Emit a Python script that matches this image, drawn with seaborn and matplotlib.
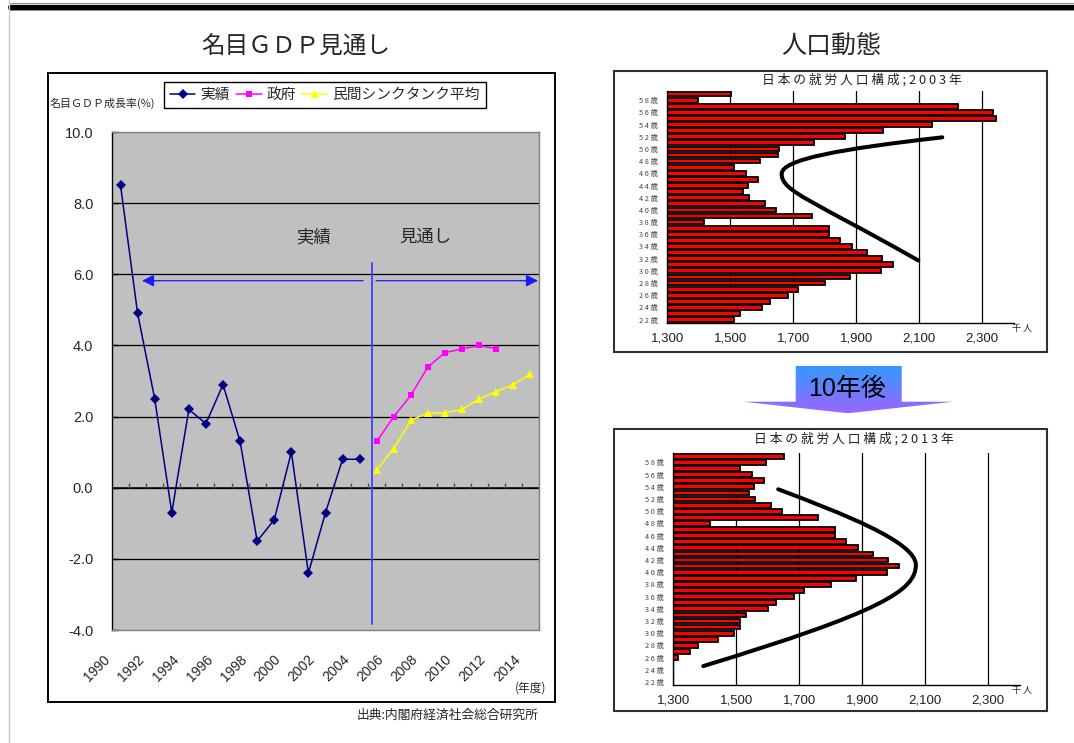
import numpy as np
import pandas as pd
import matplotlib
matplotlib.use("Agg")
import matplotlib.pyplot as plt
import matplotlib.patches as mpatches
import matplotlib.transforms as mtransforms
from matplotlib.path import Path
from matplotlib.lines import Line2D
from matplotlib.colors import LinearSegmentedColormap
import seaborn as sns

# ---------------- data ----------------
# nominal GDP growth rate (%) by fiscal year
actual_years = list(range(1990, 2005))
actual_growth = [8.5, 4.9, 2.5, -0.7, 2.2, 1.8, 2.9, 1.3, -1.5, -0.9, 1.0, -2.4, -0.7, 0.8, 0.8]
gov_years = list(range(2005, 2013))
gov_growth = [1.3, 2.0, 2.6, 3.4, 3.8, 3.9, 4.0, 3.9]
private_years = list(range(2005, 2015))
private_growth = [0.5, 1.1, 1.9, 2.1, 2.1, 2.2, 2.5, 2.7, 2.9, 3.2]
series_names = ["実績", "政府", "民間シンクタンク平均"]
year_ticks = list(range(1990, 2015, 2))
growth_ticks = [-4.0, -2.0, 0.0, 2.0, 4.0, 6.0, 8.0, 10.0]

# working population by age (thousand people)
ages = list(range(22, 60))
workers_2003 = [1511, 1532, 1602, 1626, 1682, 1716, 1802, 1880, 1979, 2017,
                1981, 1934, 1885, 1849, 1813, 1812, 1418, 1758, 1645, 1611,
                1560, 1539, 1557, 1589, 1550, 1512, 1594, 1652, 1656, 1766,
                1865, 1984, 2139, 2345, 2335, 2224, 1396, 1502]
workers_2013 = [1240, 1260, 1280, 1295, 1314, 1353, 1377, 1443, 1494, 1511,
                1511, 1532, 1602, 1626, 1682, 1716, 1802, 1880, 1979, 2017,
                1981, 1934, 1885, 1849, 1813, 1812, 1418, 1758, 1645, 1611,
                1560, 1539, 1557, 1589, 1550, 1512, 1594, 1652]
pop_ticks = [1300, 1500, 1700, 1900, 2100, 2300]

# hand-drawn trend strokes: (thousand people, age) Bezier control points
stroke_2003 = [(2173, 51.9), (1850, 50.0), (1663, 48.3), (1663, 45.9),
               (1663, 43.0), (1760, 41.6), (2097, 31.7)]
stroke_2013 = [(1633, 53.6), (1833, 49.7), (2070, 45.0), (2070, 41.2),
               (2070, 37.0), (1960, 33.5), (1395, 24.6)]

# ---------------- style ----------------
sns.set_style("white")
plt.rcParams["font.family"] = ["Liberation Sans", "Noto Sans CJK JP"]
plt.rcParams["axes.unicode_minus"] = False

W, H = 1074, 743
fig = plt.figure(figsize=(W / 100, H / 100), dpi=100)
fig.patch.set_facecolor("white")


def fx(px):
    return px / W


def fy(py):
    return 1 - py / H


def rect(l, t, r, b):
    return [l / W, 1 - b / H, (r - l) / W, (b - t) / H]


CJK = ["Noto Sans CJK JP", "DejaVu Sans"]

# page decoration
fig.add_artist(Line2D([fx(10), 1], [fy(6.6)] * 2, color="black", lw=3.8))
fig.add_artist(Line2D([fx(10), 1], [fy(2.8)] * 2, color="#888888", lw=0.7))
fig.add_artist(Line2D([fx(10), 1], [fy(9.8)] * 2, color="#888888", lw=0.7))
fig.add_artist(Line2D([fx(8.5)] * 2, [0, 1], color="#C8C8C8", lw=1.0))

# ---------------- GDP chart ----------------
fig.text(fx(296), fy(46), "名目ＧＤＰ見通し", fontsize=17, ha="center", va="center", family=CJK)
fig.add_artist(mpatches.Rectangle((fx(47.7), fy(701.7)), fx(555) - fx(47.7), fy(73.3) - fy(701.7),
                                  fill=False, edgecolor="black", lw=1.4, transform=fig.transFigure))

ax = fig.add_axes(rect(112, 132, 539, 630))
ax.set_facecolor("#C0C0C0")

df = pd.concat([
    pd.DataFrame({"year": actual_years, "growth": actual_growth, "series": series_names[0]}),
    pd.DataFrame({"year": gov_years, "growth": gov_growth, "series": series_names[1]}),
    pd.DataFrame({"year": private_years, "growth": private_growth, "series": series_names[2]}),
])
palette = {series_names[0]: "#000080", series_names[1]: "#FF00FF", series_names[2]: "#FFFF00"}
markers = {series_names[0]: "D", series_names[1]: "s", series_names[2]: "^"}
msizes = {series_names[0]: 5, series_names[1]: 5, series_names[2]: 5.5}

for name in series_names:
    sub = df[df["series"] == name]
    sns.lineplot(data=sub, x="year", y="growth", color=palette[name], marker=markers[name],
                 markersize=msizes[name], markeredgewidth=0, linewidth=1.1, ax=ax, zorder=4)

ax.set_xlim(1989.5, 2014.5)
ax.set_ylim(-4, 10)
ax.set_xlabel("")
ax.set_ylabel("")

ax.set_yticks(growth_ticks)
ax.set_yticklabels([f"{v:.1f}" for v in growth_ticks])
ax.yaxis.grid(True, color="black", lw=0.9)
gl = ax.get_ygridlines()
gl[0].set_visible(False)
gl[-1].set_visible(False)
ax.tick_params(axis="y", direction="in", length=4, width=1, color="black",
               labelsize=10.5, pad=13.5, left=True)

ax.set_xticks(year_ticks)
ax.set_xticklabels([str(y) for y in year_ticks])
ax.tick_params(axis="x", length=0, labelsize=10, pad=19.5)
shift = mtransforms.ScaledTranslation(-12.5 / 100, 0, fig.dpi_scale_trans)
for lab in ax.get_xticklabels():
    lab.set_rotation(45)
    lab.set_ha("right")
    lab.set_va("center")
    lab.set_rotation_mode("anchor")
    lab.set_transform(lab.get_transform() + shift)

for s in ["top", "right", "bottom"]:
    ax.spines[s].set_color("#808080")
    ax.spines[s].set_linewidth(1.0)
ax.spines["left"].set_color("black")
ax.spines["left"].set_linewidth(1.0)

# category axis crossing at zero with tick marks between categories
ax.axhline(0, color="black", lw=1.1, zorder=2)
boundaries = [y + 0.5 for y in range(1990, 2014)]
ax.vlines(boundaries, 0, 0.12, color="#505050", lw=1.0, zorder=2)

# actual / outlook divider
ax.plot([2004.72, 2004.72], [6.33, -3.83], color="#4040FF", lw=1.3, zorder=3)
arrow_kw = dict(arrowstyle="-|>,head_length=0.6,head_width=0.3", color="#1A1AFF", lw=0.9,
                shrinkA=0, shrinkB=0, mutation_scale=12)
ax.annotate("", xy=(1991.26, 5.82), xytext=(2004.2, 5.82), arrowprops=arrow_kw, zorder=3)
ax.annotate("", xy=(2014.44, 5.82), xytext=(2004.96, 5.82), arrowprops=arrow_kw, zorder=3)
ax.text(2001.27, 7.04, "実績", fontsize=12.5, ha="center", va="center", family=CJK)
ax.text(2007.83, 7.04, "見通し", fontsize=12.5, ha="center", va="center", family=CJK)

handles = [Line2D([], [], color=palette[n], marker=markers[n], markersize=msizes[n],
                  markeredgewidth=0, lw=1.1) for n in series_names]
leg = ax.legend(handles, series_names, loc="upper left", bbox_to_anchor=(fx(163.5), fy(82)),
                bbox_transform=fig.transFigure, ncol=3, frameon=True, fancybox=False,
                edgecolor="black", framealpha=1, handlelength=1.75,
                handletextpad=0.3, columnspacing=0.45, borderpad=0.42, borderaxespad=0,
                prop={"family": CJK, "size": 10.6})
leg.get_frame().set_linewidth(1.0)

fig.text(fx(50), fy(103), "名目ＧＤＰ成長率(%)", fontsize=7.9, ha="left", va="center", family=CJK)
fig.text(fx(531), fy(688), "(年度)", fontsize=8.5, ha="center", va="center", family=CJK)
fig.text(fx(538), fy(715), "出典:内閣府経済社会総合研究所", fontsize=9.2, ha="right", va="center",
         family=CJK)

# ---------------- population charts ----------------
fig.text(fx(831), fy(46), "人口動態", fontsize=18, ha="center", va="center", family=CJK)

order = [str(a) for a in reversed(ages)]


def position(age):
    return ages[-1] - age


def draw_population(frame, plot_box, values, year_label, title_xy, unit_xy, stroke):
    fl, ft, fr, fb = frame
    fig.add_artist(mpatches.Rectangle((fx(fl), fy(fb)), fx(fr) - fx(fl), fy(ft) - fy(fb),
                                      fill=False, edgecolor="#303030", lw=1.5,
                                      transform=fig.transFigure))
    pax = fig.add_axes(rect(*plot_box))
    sns.barplot(x=values, y=[str(a) for a in ages], order=order, orient="h", color="#FF0000",
                saturation=1, edgecolor="black", linewidth=1.3, width=0.78, ax=pax, zorder=2)
    pax.set_xlim(1300, 2400)
    pax.set_xlabel("")
    pax.set_ylabel("")
    pax.set_xticks(pop_ticks)
    pax.set_xticklabels([f"{v:,}" for v in pop_ticks])
    pax.xaxis.grid(True, color="black", lw=0.9)
    pax.set_axisbelow(True)
    tick_ages = [a for a in ages if a % 2 == 0]
    pax.set_yticks([position(a) for a in tick_ages])
    pax.set_yticklabels([f"{a // 10} {a % 10} 歳" for a in tick_ages], family=CJK)
    pax.tick_params(axis="y", direction="in", length=2, width=0.8, color="black",
                    labelsize=5.3, labelcolor="#444444", pad=7)
    pax.tick_params(axis="x", length=0, labelsize=9.5, labelcolor="#202020", pad=7)
    for s in ["top", "right"]:
        pax.spines[s].set_visible(False)
    for s in ["left", "bottom"]:
        pax.spines[s].set_color("black")
        pax.spines[s].set_linewidth(1.0)
    verts = [(v, position(a)) for v, a in stroke]
    codes = [Path.MOVETO] + [Path.CURVE4] * (len(verts) - 1)
    pax.add_patch(mpatches.PathPatch(Path(verts, codes), facecolor="none", edgecolor="black",
                                     lw=2.9, capstyle="round", zorder=5, clip_on=False))
    title = "日 本 の 就 労 人 口 構 成 ; " + " ".join(year_label) + " 年"
    fig.text(fx(title_xy[0]), fy(title_xy[1]), title, fontsize=9.2, ha="center", va="center",
             family=CJK, color="#202020")
    fig.text(fx(unit_xy[0]), fy(unit_xy[1]), "千 人", fontsize=6.5, ha="center", va="center",
             family=CJK, color="#202020")
    return pax


draw_population((614.3, 71, 1046.7, 352.3), (667.3, 91, 1013.8, 322.7), workers_2003, "2003",
                (861.7, 80), (1022, 328.5), stroke_2003)
draw_population((614.3, 429, 1046.7, 710.7), (673.3, 453.3, 1019.8, 685), workers_2013, "2013",
                (854, 439), (1022, 690), stroke_2013)

# ---------------- "10 years later" arrow ----------------
arr = fig.add_axes(rect(740, 363, 957, 416))
arr.set_xlim(740, 957)
arr.set_ylim(416, 363)
arr.axis("off")
shape = [(795.7, 366), (901.7, 366), (901.7, 401.7), (953.3, 401.7), (848, 413.3),
         (743.3, 401.7), (795.7, 401.7)]
poly = mpatches.Polygon(shape, closed=True, facecolor="none", edgecolor="none")
arr.add_patch(poly)
grad_cmap = LinearSegmentedColormap.from_list("blue_violet", ["#3399FF", "#9A66FF"])
grad = np.linspace(0, 1, 64).reshape(-1, 1)
img = arr.imshow(grad, cmap=grad_cmap, extent=[743, 954, 413.5, 366], aspect="auto",
                 interpolation="bilinear")
img.set_clip_path(poly)
arr.text(847, 388.5, "10年後", fontsize=18, ha="center", va="center", color="black")

fig.savefig("out.png", dpi=100)
